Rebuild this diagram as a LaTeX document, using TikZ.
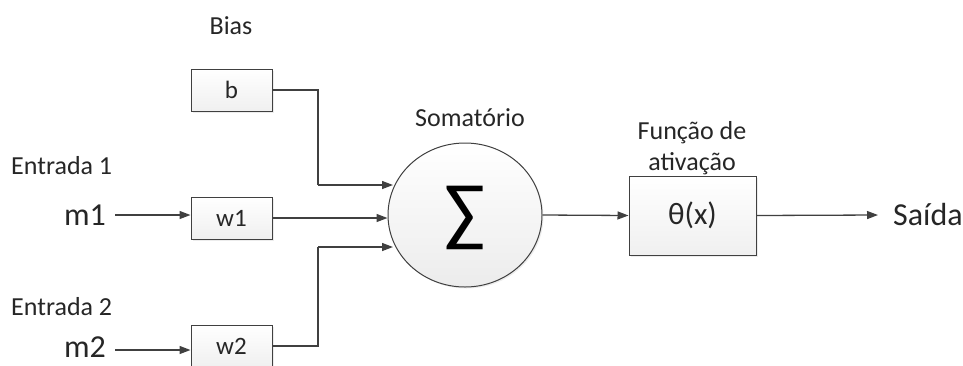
\documentclass[tikz,border=0pt]{standalone}
\usepackage{fontspec}
\setmainfont{Carlito}
\usetikzlibrary{arrows.meta,shadows,shapes.geometric}
\definecolor{ln}{HTML}{404040}
\definecolor{tx}{HTML}{262626}
\tikzset{
  wbox/.style={draw=ln,line width=1pt,top color=white,bottom color=gray!12,minimum width=81pt,minimum height=42pt,inner sep=0pt,font=\fontsize{25}{30}\selectfont,text=tx,drop shadow={shadow xshift=1.5pt,shadow yshift=-1.5pt,opacity=0.15}},
  lbl/.style={font=\fontsize{26}{30}\selectfont,text=tx,inner sep=0pt},
  big/.style={font=\fontsize{32}{36}\selectfont,text=tx,inner sep=0pt},
  conn/.style={draw=ln,line width=1.3pt,-{Triangle[length=11pt,width=8pt]}},
  wire/.style={draw=ln,line width=1.3pt}
}
\begin{document}
\begin{tikzpicture}[x=1pt,y=-1pt]
\useasboundingbox (0,0) rectangle (963,365);
\clip (0,0) rectangle (963,365);
\node[lbl] (bias) at (231,26) {Bias};
\node[wbox] (b) at (231.5,90) {b};
\node[wbox] (w1) at (231.5,218) {w1};
\node[wbox] (w2) at (231.5,346) {w2};
\node[lbl,anchor=west] (e1) at (11,166) {Entrada 1};
\node[lbl,anchor=west] (e2) at (11,307) {Entrada 2};
\node[big,anchor=east] (m1) at (106,215) {m1};
\node[big,anchor=base east] (m2) at (106,357) {m2};
\node[draw=ln,line width=1pt,ellipse,minimum width=154pt,minimum height=144pt,inner sep=0pt,top color=white,bottom color=gray!15,drop shadow={shadow xshift=1.5pt,shadow yshift=-1.5pt,opacity=0.15}] (sum) at (465,215) {};
\node[font=\fontsize{76}{80}\selectfont,text=black,inner sep=0pt] (sig) at (465,218) {∑};
\node[lbl] (som) at (470,118) {Somatório};
\node[wbox,minimum width=127pt,minimum height=79pt,font=\fontsize{31}{36}\selectfont] (th) at (692.5,215.5) {θ(x)};
\node[lbl,align=center,font=\fontsize{26}{31}\selectfont] (fa) at (692,148) {Função de\\ativação};
\node[big,anchor=west] (out) at (893,215) {Saída};
\coordinate (s1) at (115,215);
\coordinate (s2) at (115,350);
\coordinate (c1) at (318,185);
\coordinate (c2) at (318,247);
\coordinate (e1) at (393,185);
\coordinate (e3) at (393,247);
\coordinate (oe) at (878,215);
\draw[conn] (s1) -- (s1-|w1.west);
\draw[conn] (s2) -- (s2-|w2.west);
\draw[wire] (b.east) -| (c1);
\draw[conn] (c1) -- (e1);
\draw[conn] (w1.east) -- (w1.east-|sum.west);
\draw[wire] (w2.east) -| (c2);
\draw[conn] (c2) -- (e3);
\draw[conn] (sum.east) -- (th.west);
\draw[conn] (th.east) -- (oe);
\end{tikzpicture}
\end{document}
